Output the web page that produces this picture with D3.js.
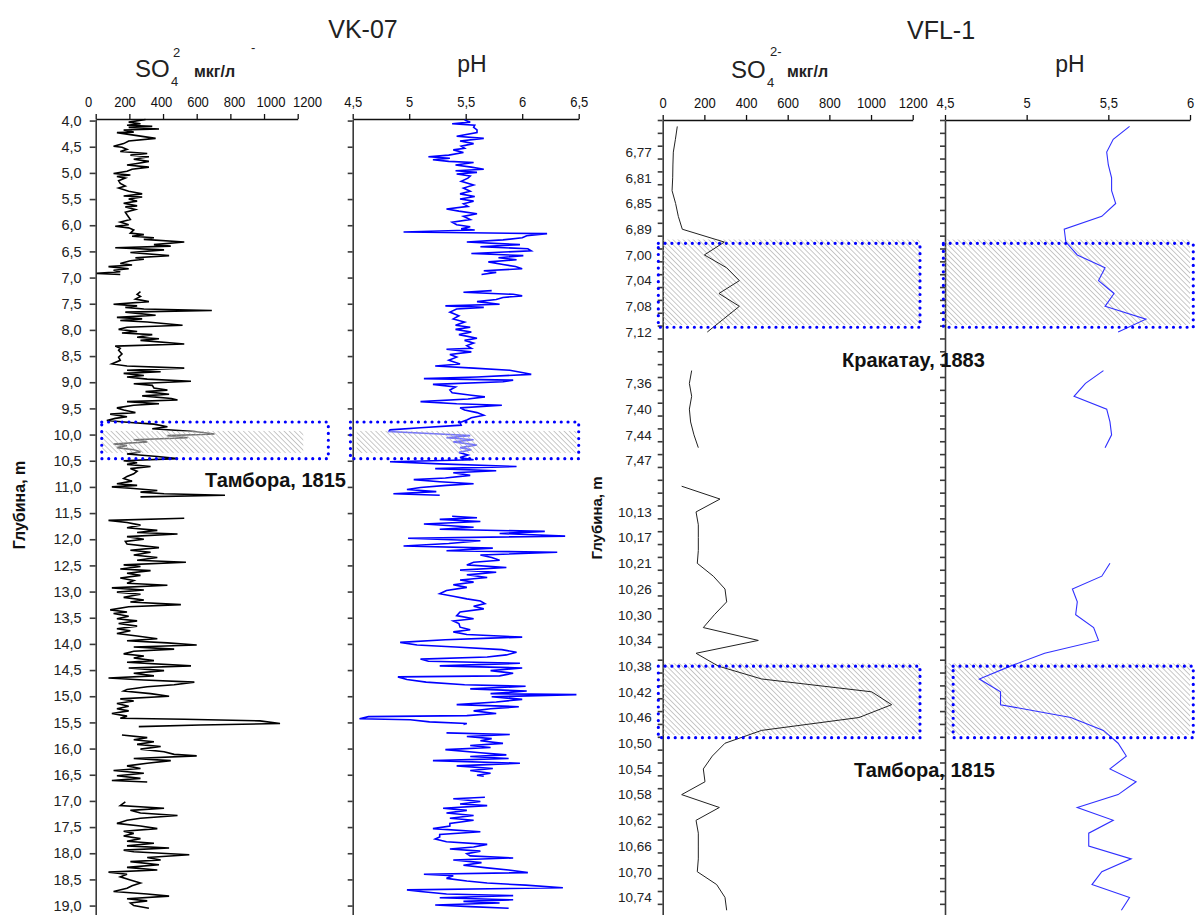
<!DOCTYPE html>
<html>
<head>
<meta charset="utf-8">
<script src="https://cdn.jsdelivr.net/npm/d3@7"></script>
<style>
  body { margin: 0; background: #fff; }
  svg { display: block; font-family: "Liberation Sans", Arial, sans-serif; }
</style>
</head>
<body>
<div id="chart"></div>
<script>
// ---- VK-07 core: [depth m, value], null = gap in the record
const vkSo4 = [
  [3.98,296],[4.03,196],[4.06,266],[4.09,186],[4.11,336],[4.13,196],[4.16,376],[4.18,166],[4.22,226],[4.23,126],
  [4.34,356],[4.39,196],[4.44,166],[4.49,106],[4.51,156],[4.55,186],[4.59,146],[4.63,306],[4.66,206],[4.69,316],
  [4.74,226],[4.78,316],[4.82,246],[4.85,186],[4.89,316],[4.93,216],[4.97,186],[5.01,106],[5.04,206],[5.07,126],
  [5.10,176],[5.15,136],[5.20,146],[5.25,176],[5.29,136],[5.35,196],[5.40,276],[5.44,166],[5.46,276],[5.50,196],
  [5.54,246],[5.58,166],[5.63,246],[5.65,176],[5.70,236],[5.75,176],[5.80,186],[5.89,206],[5.94,146],[5.99,196],
  [6.02,116],[6.05,196],[6.09,226],[6.15,206],[6.18,286],[6.21,216],[6.24,346],[6.27,286],[6.32,526],[6.37,346],
  [6.40,446],[6.43,116],[6.47,406],[6.52,206],[6.58,436],[6.62,236],[6.65,286],[6.68,206],[6.73,146],[6.76,216],
  [6.79,76],[6.83,196],[6.86,106],[6.89,146],[6.92,6],[6.94,146], null,
  [7.27,266],[7.32,246],[7.36,266],[7.41,236],[7.46,316],[7.51,106],[7.54,246],[7.57,176],[7.60,286],[7.63,690],
  [7.66,176],[7.72,356],[7.76,126],[7.79,276],[7.82,146],[7.85,306],[7.91,516],[7.95,186],[7.99,136],[8.03,246],
  [8.06,156],[8.09,336],[8.14,246],[8.17,376],[8.20,266],[8.27,526],[8.31,116],[8.35,146],[8.39,136],[8.46,156],
  [8.52,136],[8.58,146],[8.65,96],[8.69,186],[8.73,526],[8.77,186],[8.80,386],[8.83,166],[8.87,286],[8.90,186],
  [8.94,306],[8.98,566],[9.03,226],[9.06,336],[9.11,346],[9.15,426],[9.18,296],[9.23,436],[9.26,276],[9.31,450],
  [9.34,486],[9.37,186],[9.41,376],[9.44,226],[9.49,126],[9.53,166],[9.58,236],[9.61,86],[9.66,186],[9.69,116],
  [9.73,66],[9.77,206],[9.80,346],[9.85,426],[9.89,336],[9.94,586],[9.99,706],[10.02,426],[10.06,546],[10.10,226],
  [10.14,306],[10.18,106],[10.21,186],[10.25,126],[10.29,226],[10.33,266],[10.37,186],[10.42,366],[10.46,486],[10.50,166],
  [10.54,246],[10.57,186],[10.61,326],[10.65,206],[10.70,246],[10.75,226],[10.80,186],[10.84,166],[10.89,216],[10.94,126],
  [10.97,246],[11.00,96],[11.03,226],[11.07,366],[11.10,266],[11.13,406],[11.16,768],[11.19,266], null,
  [11.60,526],[11.64,76],[11.68,186],[11.73,266],[11.78,186],[11.83,366],[11.87,246],[11.90,486],[11.95,186],[12.00,286],
  [12.04,176],[12.09,186],[12.16,376],[12.21,206],[12.25,326],[12.30,226],[12.35,366],[12.40,246],[12.44,536],[12.49,166],
  [12.52,266],[12.57,146],[12.60,326],[12.65,186],[12.69,266],[12.74,146],[12.79,226],[12.84,186],[12.88,426],[12.93,96],
  [12.97,286],[13.01,126],[13.05,266],[13.11,166],[13.16,286],[13.20,206],[13.25,506],[13.29,196],[13.35,86],[13.39,186],
  [13.42,106],[13.47,196],[13.52,126],[13.56,246],[13.61,136],[13.66,246],[13.71,126],[13.75,206],[13.80,126],[13.85,246],
  [13.90,366],[13.94,186],[13.98,426],[14.02,600],[14.06,226],[14.10,466],[14.14,226],[14.19,166],[14.23,286],[14.27,226],
  [14.32,346],[14.35,186],[14.42,566],[14.46,196],[14.51,406],[14.56,226],[14.61,346],[14.65,76],[14.69,286],[14.73,586],
  [14.78,466],[14.82,306],[14.87,186],[14.90,166],[14.95,326],[15.00,436],[15.05,146],[15.09,226],[15.14,126],[15.19,196],
  [15.24,126],[15.28,196],[15.33,96],[15.38,186],[15.42,146],[15.44,526],[15.47,976],[15.52,1095],[15.55,620],[15.58,256], null,
  [15.74,156],[15.79,306],[15.83,226],[15.87,346],[15.92,246],[15.96,386],[16.01,266],[16.06,406],[16.11,466],[16.14,600],
  [16.19,226],[16.23,446],[16.28,306],[16.33,186],[16.38,266],[16.42,106],[16.47,286],[16.52,126],[16.57,266],[16.61,96],
  [16.64,306], null,
  [17.02,176],[17.09,146],[17.14,406],[17.18,206],[17.23,266],[17.28,486],[17.33,266],[17.37,186],[17.43,126],[17.48,266],
  [17.53,366],[17.58,166],[17.62,226],[17.67,166],[17.72,266],[17.77,186],[17.81,346],[17.86,186],[17.90,436],[17.94,166],
  [17.97,226],[18.03,556],[18.08,306],[18.13,386],[18.16,206],[18.22,376],[18.27,186],[18.32,366],[18.36,76],[18.40,186],
  [18.45,146],[18.51,206],[18.57,266],[18.62,216],[18.67,186],[18.73,106],[18.78,306],[18.82,436],[18.87,186],[18.91,306],
  [18.95,206],[19.00,226],[19.05,316]
];

const vkPh = [
  [3.99,5.49],[4.03,5.54],[4.06,5.38],[4.09,5.58],[4.13,5.57],[4.18,5.60],[4.23,5.60],[4.30,5.42],[4.34,5.66],[4.39,5.45],
  [4.44,5.57],[4.49,5.46],[4.53,5.49],[4.56,5.39],[4.61,5.48],[4.66,5.35],[4.69,5.17],[4.72,5.36],[4.75,5.21],[4.78,5.35],
  [4.80,5.57],[4.85,5.41],[4.89,5.55],[4.93,5.66],[4.96,5.41],[4.99,5.60],[5.02,5.42],[5.06,5.54],[5.10,5.52],[5.16,5.46],
  [5.23,5.57],[5.29,5.48],[5.35,5.54],[5.40,5.45],[5.45,5.58],[5.50,5.45],[5.54,5.57],[5.59,5.48],[5.64,5.52],[5.69,5.33],
  [5.73,5.44],[5.78,5.60],[5.83,5.48],[5.89,5.54],[5.94,5.38],[5.99,5.42],[6.03,5.54],[6.07,5.46],[6.09,5.58],[6.13,4.95],
  [6.16,6.22],[6.20,6.04],[6.24,6.00],[6.28,5.83],[6.32,5.51],[6.37,5.98],[6.41,5.63],[6.45,6.05],[6.49,6.08],[6.54,5.55],
  [6.58,6.01],[6.62,5.79],[6.66,5.95],[6.70,5.70],[6.75,5.83],[6.79,5.94],[6.83,6.00],[6.87,5.66],[6.90,5.77],[6.94,5.64], null,
  [7.25,5.73],[7.28,5.48],[7.32,5.92],[7.35,6.00],[7.38,5.83],[7.42,5.77],[7.46,5.60],[7.51,5.80],[7.54,5.32],[7.57,5.66],
  [7.60,5.42],[7.66,5.36],[7.73,5.44],[7.79,5.39],[7.85,5.49],[7.91,5.41],[7.95,5.54],[7.99,5.41],[8.04,5.55],[8.09,5.44],
  [8.16,5.60],[8.20,5.49],[8.25,5.57],[8.30,5.51],[8.35,5.55],[8.37,5.33],[8.42,5.55],[8.47,5.36],[8.52,5.42],[8.58,5.35],
  [8.65,5.45],[8.69,5.23],[8.73,5.57],[8.77,5.89],[8.82,6.01],[8.85,6.08],[8.90,5.60],[8.93,5.13],[8.96,5.92],[8.99,5.83],
  [9.04,5.21],[9.09,5.41],[9.15,5.36],[9.20,5.38],[9.25,5.55],[9.28,5.67],[9.32,5.52],[9.37,5.10],[9.41,5.42],[9.44,5.82],
  [9.49,5.45],[9.53,5.49],[9.58,5.60],[9.63,5.66],[9.68,5.55],[9.72,5.51],[9.77,5.45],[9.82,5.46],[9.87,5.10],[9.91,4.83],
  [9.94,4.82],[9.99,5.27],[10.02,5.54],[10.06,5.33],[10.10,5.57],[10.14,5.39],[10.20,5.60],[10.25,5.45],[10.29,5.55],[10.34,5.44],
  [10.39,5.52],[10.44,5.45],[10.48,5.57],[10.52,4.83],[10.56,5.27],[10.61,5.95],[10.65,5.23],[10.69,5.77],[10.73,5.39],[10.78,5.54],
  [10.83,5.32],[10.86,5.04],[10.90,5.27],[10.94,5.57],[10.97,5.33],[11.01,5.10],[11.05,4.98],[11.09,5.24],[11.13,4.86],[11.16,5.27], null,
  [11.56,5.38],[11.59,5.60],[11.62,5.27],[11.66,5.63],[11.71,5.13],[11.77,5.57],[11.81,5.27],[11.85,6.20],[11.89,5.80],[11.94,6.38],
  [11.98,4.99],[12.03,5.63],[12.08,5.35],[12.13,4.95],[12.17,5.74],[12.22,5.33],[12.25,6.31],[12.30,5.63],[12.35,5.73],[12.40,5.80],
  [12.44,5.57],[12.49,5.51],[12.54,5.86],[12.59,5.45],[12.63,5.77],[12.68,5.51],[12.73,5.69],[12.78,5.45],[12.82,5.57],[12.87,5.39],
  [12.92,5.51],[12.98,5.33],[13.04,5.27],[13.09,5.39],[13.14,5.51],[13.18,5.63],[13.23,5.67],[13.28,5.57],[13.33,5.66],[13.39,5.45],
  [13.46,5.42],[13.52,5.57],[13.56,5.39],[13.61,5.44],[13.68,5.45],[13.73,5.54],[13.77,5.39],[13.82,5.51],[13.87,6.00],[13.89,5.72],
  [13.92,5.32],[13.97,4.92],[14.02,5.07],[14.06,5.41],[14.11,5.82],[14.16,5.95],[14.21,5.86],[14.25,5.69],[14.29,5.10],[14.33,5.17],
  [14.37,5.98],[14.42,5.27],[14.46,6.00],[14.51,5.72],[14.56,5.92],[14.61,5.80],[14.63,4.90],[14.68,4.98],[14.73,5.15],[14.78,5.49],
  [14.81,6.03],[14.86,5.54],[14.90,6.04],[14.95,5.72],[14.97,6.48],[15.01,5.73],[15.06,6.00],[15.11,5.77],[15.16,5.42],[15.20,5.97],
  [15.24,5.72],[15.28,5.57],[15.33,5.77],[15.37,5.51],[15.39,4.64],[15.43,4.56],[15.45,5.01],[15.49,5.18],[15.52,5.51],[15.54,5.48], null,
  [15.70,5.33],[15.73,5.89],[15.77,5.51],[15.81,5.73],[15.85,5.63],[15.90,5.83],[15.94,5.54],[15.98,5.72],[16.02,5.32],[16.08,5.63],
  [16.12,5.86],[16.15,5.54],[16.19,5.88],[16.23,5.21],[16.28,5.98],[16.33,5.42],[16.38,5.74],[16.42,5.54],[16.47,5.72],[16.51,5.60],
  [16.53,5.66], null,
  [16.93,5.67],[16.96,5.39],[17.01,5.63],[17.06,5.45],[17.09,5.69],[17.14,5.30],[17.18,5.51],[17.23,5.33],[17.28,5.57],[17.33,5.36],
  [17.37,5.57],[17.43,5.36],[17.48,5.36],[17.53,5.21],[17.59,5.63],[17.64,5.27],[17.69,5.27],[17.73,5.23],[17.78,5.33],[17.83,5.69],
  [17.88,5.57],[17.92,5.36],[17.96,5.63],[18.01,5.51],[18.05,5.54],[18.09,5.92],[18.13,5.39],[18.18,5.64],[18.23,5.48],[18.28,5.69],
  [18.32,5.88],[18.37,6.05],[18.40,5.13],[18.43,5.39],[18.48,5.33],[18.53,5.51],[18.57,5.69],[18.61,6.03],[18.66,6.36],[18.70,4.98],
  [18.73,5.10],[18.78,5.33],[18.81,5.92],[18.85,5.27],[18.89,5.92],[18.92,5.48],[18.95,5.80],[18.99,5.23],[19.02,5.54],[19.05,5.88]
];

const vkDepthTicks = [4.0,4.5,5.0,5.5,6.0,6.5,7.0,7.5,8.0,8.5,9.0,9.5,10.0,10.5,11.0,11.5,12.0,12.5,13.0,13.5,
  14.0,14.5,15.0,15.5,16.0,16.5,17.0,17.5,18.0,18.5,19.0];

// ---- VFL-1 core: one entry per sample, labels shown for every other sample
const vflLabels = ['', '', '6,77', '', '6,81', '', '6,85', '', '6,89', '', '7,00', '', '7,04', '', '7,08', '',
  '7,12', '', '', '', '7,36', '', '7,40', '', '7,44', '', '7,47', '', '', '', '10,13', '', '10,17', '', '10,21', '',
  '10,26', '', '10,30', '', '10,34', '', '10,38', '', '10,42', '', '10,46', '', '10,50', '', '10,54', '', '10,58', '',
  '10,62', '', '10,66', '', '10,70', '', '10,74', ''];
const vflSo4 = [70,61,51,49,48,45,62,75,94,296,200,307,368,270,368,291,214,null,null,139,128,139,128,134,150,171,
  null,null,91,275,160,171,171,171,166,243,299,307,248,195,459,160,267,475,1003,1099,942,475,299,238,195,203,91,
  272,160,171,171,171,166,259,299,307];
const vflPh = [5.63,5.53,5.49,5.50,5.52,5.52,5.545,5.46,5.23,5.24,5.31,5.48,5.44,5.535,5.48,5.73,5.56,null,null,
  5.47,5.36,5.29,5.49,5.51,5.52,5.48,null,null,null,null,null,null,null,null,5.51,5.46,5.28,5.31,5.30,5.41,5.44,
  5.11,4.90,4.71,4.84,4.84,5.27,5.47,5.56,5.61,5.51,5.67,5.56,5.31,5.53,5.38,5.38,5.64,5.46,5.40,5.63,5.58];

const so4Ticks = [0,200,400,600,800,1000,1200];
const vkPhTicks = [4.5,5,5.5,6,6.5];
const vflPhTicks = [4.5,5,5.5,6];

// volcanic layers: depth / sample ranges of the shaded band and the dotted frame
const vkEvents = [{name: 'Тамбора, 1815', band: [9.93, 10.35], frame: [9.76, 10.46]}];
const vflEvents = [
  {name: 'Кракатау, 1883', band: [9.3, 15.95], frame: [9.6, 16.13]},
  {name: 'Тамбора, 1815', band: [42.28, 47.86], frame: [42.5, 48.07]}
];

const width = 1196, height = 915;
const comma = d => String(d).replace('.', ',');

const svg = d3.select('#chart').append('svg')
  .attr('width', width)
  .attr('height', height)
  .attr('viewBox', [0, 0, width, height]);

const pat = svg.append('defs').append('pattern')
  .attr('id', 'hatch')
  .attr('patternUnits', 'userSpaceOnUse')
  .attr('width', 3.6).attr('height', 3.6)
  .attr('patternTransform', 'rotate(-45)');
pat.append('line')
  .attr('x1', 0).attr('y1', 0).attr('x2', 0).attr('y2', 3.6)
  .attr('stroke', '#9c9c9c').attr('stroke-width', 1.1);

// scales
const vkY = d3.scaleLinear().domain([3.97, 19.18]).range([119, 915]);
const vkSo4X = d3.scaleLinear().domain([0, 1200]).range([95.7, 297.7]);
const vkSo4Lab = d3.scaleLinear().domain([0, 1200]).range([88, 307]); // printed labels drift off the ticks
const vkPhX = d3.scaleLinear().domain([4.5, 6.5]).range([352.7, 578.7]);
const vflY = d3.scaleLinear().domain([0, vflLabels.length]).range([120, 916.7]);
const vflSo4X = d3.scaleLinear().domain([0, 1200]).range([662.7, 912.7]);
const vflPhX = d3.scaleLinear().domain([4.5, 6]).range([945, 1190]);

// top value axes (the source uses a narrow face; squeeze the labels)
function topAxis(x, ticks, y, lab) {
  svg.append('g')
    .attr('transform', `translate(0,${y})`)
    .call(d3.axisTop(x).tickValues(ticks).tickFormat(comma).tickSize(5).tickPadding(7).tickSizeOuter(0))
    .call(g => g.selectAll('line,path').attr('stroke', '#111').attr('stroke-width', 1.3))
    .call(g => g.selectAll('text').attr('font-size', 15.5).attr('fill', '#111')
      .attr('x', d => lab ? lab(d) - x(d) : 0)
      .each(function () {
        this.setAttribute('textLength', (this.getComputedTextLength() * 0.84).toFixed(1));
        this.setAttribute('lengthAdjust', 'spacingAndGlyphs');
      }));
}
topAxis(vkSo4X, so4Ticks, 119, vkSo4Lab);
topAxis(vkPhX, vkPhTicks, 119);
topAxis(vflSo4X, so4Ticks, 120);
topAxis(vflPhX, vflPhTicks, 120);

// depth axes
function styleLeft(g) {
  g.selectAll('line,path').attr('stroke', '#3a3a3a').attr('stroke-width', 1.6);
  g.selectAll('text').attr('fill', '#222');
}
svg.append('g')
  .attr('transform', `translate(${vkSo4X(0)},0)`)
  .call(d3.axisLeft(vkY).tickValues(vkDepthTicks).tickFormat(d => d.toFixed(1).replace('.', ','))
    .tickSize(6).tickPadding(8).tickSizeOuter(0))
  .call(styleLeft)
  .call(g => g.selectAll('text').attr('font-size', 14.5));
svg.append('g')
  .attr('transform', `translate(${vkPhX(4.5)},0)`)
  .call(d3.axisLeft(vkY).tickValues(vkDepthTicks).tickFormat('').tickSize(5).tickSizeOuter(0))
  .call(styleLeft);

const bounds = d3.range(vflLabels.length + 1);
const labelled = vflLabels.map((l, i) => l ? i + 0.5 : null).filter(v => v !== null);
[vflSo4X(0), vflPhX(4.5)].forEach((x0, k) => {
  svg.append('g')
    .attr('transform', `translate(${x0},0)`)
    .call(d3.axisLeft(vflY).tickValues(bounds).tickFormat('').tickSize(5).tickSizeOuter(0))
    .call(styleLeft);
  if (k === 0) {
    svg.append('g')
      .attr('transform', `translate(${x0},0)`)
      .call(d3.axisLeft(vflY).tickValues(labelled).tickFormat(v => vflLabels[v - 0.5]).tickSize(0).tickPadding(11))
      .call(g => g.select('.domain').remove())
      .call(g => g.selectAll('text').attr('font-size', 13.5).attr('fill', '#222'));
  }
});

// bands: VFL-1 bands sit under the curves
function band(xs, ys, x0, x1, b) {
  svg.append('rect')
    .attr('x', xs(x0)).attr('width', xs(x1) - xs(x0))
    .attr('y', ys(b[0])).attr('height', ys(b[1]) - ys(b[0]))
    .attr('fill', 'url(#hatch)');
}
function frame(xs, ys, x0, x1, f) {
  svg.append('rect')
    .attr('x', xs(x0)).attr('width', xs(x1) - xs(x0))
    .attr('y', ys(f[0])).attr('height', ys(f[1]) - ys(f[0]))
    .attr('fill', 'none')
    .attr('stroke', '#0000ff').attr('stroke-width', 3.2)
    .attr('stroke-linecap', 'round').attr('stroke-dasharray', '0 6.8');
}
vflEvents.forEach(e => {
  band(vflSo4X, vflY, 0, 1235, e.band);
  band(vflPhX, vflY, 4.5, 6.0, e.band);
});

// curves
const vkLine = (xs) => d3.line().defined(d => d !== null).x(d => xs(d[1])).y(d => vkY(d[0]));
svg.append('path').datum(vkSo4)
  .attr('fill', 'none').attr('stroke', '#000').attr('stroke-width', 1.6)
  .attr('d', vkLine(vkSo4X));
svg.append('path').datum(vkPh)
  .attr('fill', 'none').attr('stroke', '#0000ff').attr('stroke-width', 1.6)
  .attr('d', vkLine(vkPhX));

const vflLine = (xs) => d3.line().defined(d => d !== null).x(d => xs(d)).y((d, i) => vflY(i + 0.5));
svg.append('path').datum(vflSo4)
  .attr('fill', 'none').attr('stroke', '#222').attr('stroke-width', 1)
  .attr('d', vflLine(vflSo4X));
svg.append('path').datum(vflPh)
  .attr('fill', 'none').attr('stroke', '#3030ff').attr('stroke-width', 1.1)
  .attr('d', vflLine(vflPhX));

// VK-07 band is drawn over the curves, which show through it
vkEvents.forEach(e => {
  [[vkSo4X, 36, 1233], [vkPhX, 4.535, 6.48]].forEach(([xs, a, b]) => {
    svg.append('rect')
      .attr('x', xs(a)).attr('width', xs(b) - xs(a))
      .attr('y', vkY(e.band[0])).attr('height', vkY(e.band[1]) - vkY(e.band[0]))
      .attr('fill', '#fff').attr('opacity', 0.45);
    band(xs, vkY, a, b, e.band);
  });
  frame(vkSo4X, vkY, 36, 1382, e.frame);
  frame(vkPhX, vkY, 4.48, 6.5, e.frame);
});
vflEvents.forEach((e, i) => {
  frame(vflSo4X, vflY, -21, 1235, e.frame);
  frame(vflPhX, vflY, i === 0 ? 4.49 : 4.55, 6.02, e.frame);
});

// event names
const evLabels = [
  {text: vkEvents[0].name, x: 205, y: 487},
  {text: vflEvents[0].name, x: 842, y: 367},
  {text: vflEvents[1].name, x: 854, y: 777}
];
svg.append('g').selectAll('text').data(evLabels).join('text')
  .attr('x', d => d.x).attr('y', d => d.y)
  .attr('font-size', 20).attr('font-weight', 'bold').attr('fill', '#111')
  .text(d => d.text);

// titles
const titles = svg.append('g').attr('fill', '#222');
titles.append('text').attr('x', 363).attr('y', 38).attr('text-anchor', 'middle').attr('font-size', 25).text('VK-07');
titles.append('text').attr('x', 941).attr('y', 39).attr('text-anchor', 'middle').attr('font-size', 25).text('VFL-1');

titles.append('text').attr('x', 135).attr('y', 77).attr('font-size', 24).text('SO');
titles.append('text').attr('x', 171).attr('y', 86).attr('font-size', 13).text('4');
titles.append('text').attr('x', 173).attr('y', 57).attr('font-size', 13).text('2');
titles.append('text').attr('x', 194).attr('y', 77).attr('font-size', 16).attr('font-weight', 'bold').text('мкг/л');
titles.append('text').attr('x', 251).attr('y', 52).attr('font-size', 13).text('-');
titles.append('text').attr('x', 472).attr('y', 72).attr('text-anchor', 'middle').attr('font-size', 23).text('pH');

titles.append('text').attr('x', 731).attr('y', 78).attr('font-size', 24).text('SO');
titles.append('text').attr('x', 767).attr('y', 87).attr('font-size', 13).text('4');
titles.append('text').attr('x', 770).attr('y', 56).attr('font-size', 13).text('2-');
titles.append('text').attr('x', 787).attr('y', 77).attr('font-size', 16).attr('font-weight', 'bold').text('мкг/л');
titles.append('text').attr('x', 1070).attr('y', 72).attr('text-anchor', 'middle').attr('font-size', 23).text('pH');

titles.append('text').attr('transform', 'translate(25,505) rotate(-90)')
  .attr('text-anchor', 'middle').attr('font-size', 16).attr('font-weight', 'bold').attr('fill', '#111')
  .text('Глубина, m');
titles.append('text').attr('transform', 'translate(602,518) rotate(-90)')
  .attr('text-anchor', 'middle').attr('font-size', 15).attr('font-weight', 'bold').attr('fill', '#111')
  .text('Глубина, m');
</script>
</body>
</html>
